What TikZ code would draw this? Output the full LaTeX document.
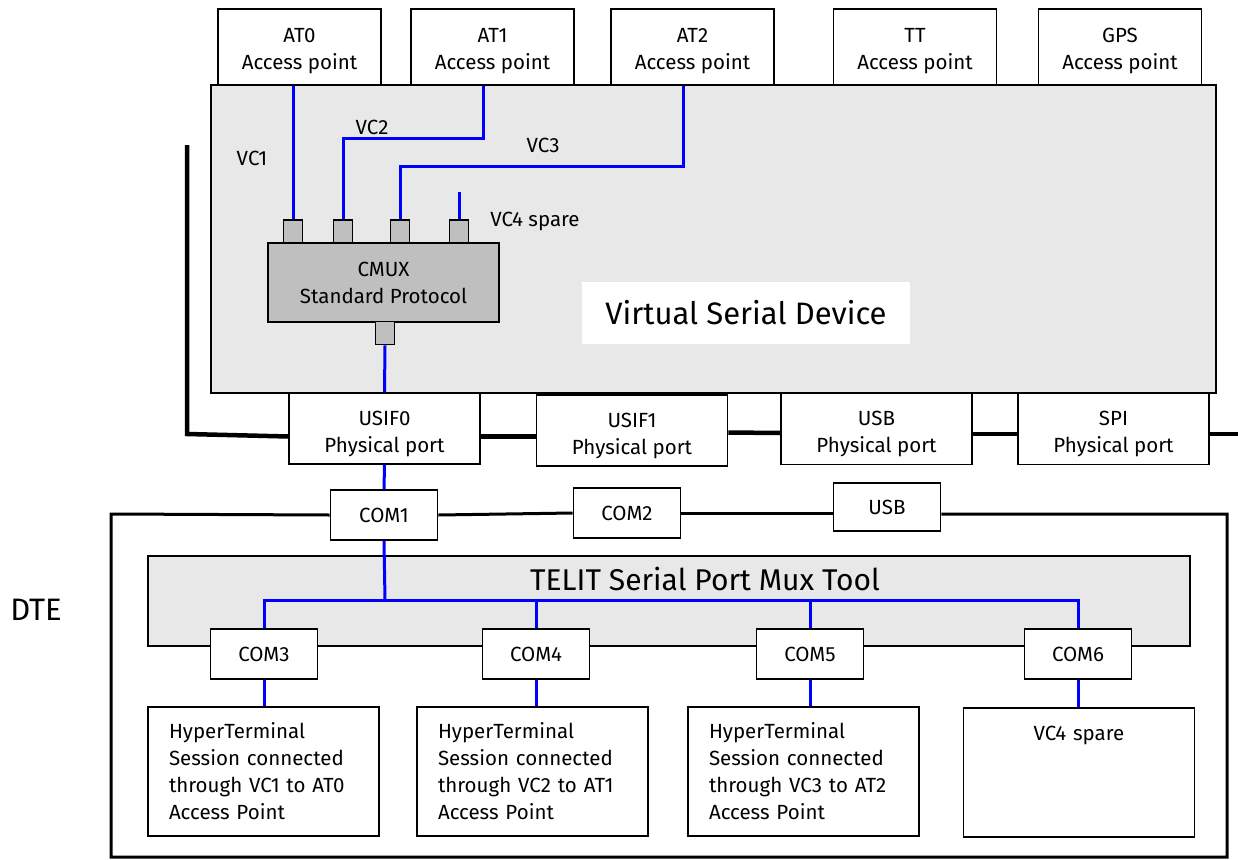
\documentclass[tikz,border=0pt]{standalone}
\usepackage{fontspec}
\setmainfont{Fira Sans}
\begin{document}
\begin{tikzpicture}[x=1pt,y=-1pt,
  every node/.style={font=\fontsize{20.5}{27}\selectfont},
  box/.style={draw, line width=1.6pt, fill=white, align=center, inner sep=0pt},
  apbox/.style={box, text height=50pt, minimum width=163pt, minimum height=76pt},
  portbox/.style={box, text height=52pt, minimum width=191pt, minimum height=71pt},
  combox/.style={box, minimum width=107pt, minimum height=50pt},
  htbox/.style={box, align=left, text width=189pt, minimum width=231pt, minimum height=129pt},
  pin/.style={box, fill=gray!50, minimum width=19pt, minimum height=23pt},
  panel/.style={draw, line width=1.6pt, fill=gray!18, inner sep=0pt},
  vc/.style={blue, line width=3pt},
  bus/.style={black, line width=4.5pt},
  frame/.style={black, line width=3pt},
  big/.style={font=\fontsize{31}{34}\selectfont}]
\useasboundingbox (0,0) rectangle (1238,859);

% module side
\node[panel, minimum width=1005pt, minimum height=308pt] (vsd) at (713.5,239) {};
\node[fill=white, minimum width=328pt, minimum height=62pt, big] (vsdlabel) at (746,313) {Virtual Serial Device};

\node[apbox] (at0) at (299.5,47) {AT0\\Access point};
\node[apbox] (at1) at (492.5,47) {AT1\\Access point};
\node[apbox] (at2) at (692.5,47) {AT2\\Access point};
\node[apbox] (tt)  at (915,47)   {TT\\Access point};
\node[apbox] (gps) at (1120,47)  {GPS\\Access point};

\coordinate (lt) at (187,145);
\coordinate (lb) at (187,434);
\coordinate (redge) at (1238,434);
\node[portbox] (usif0) at (384.5,428.5) {USIF0\\Physical port};
\node[portbox] (usif1) at (632,430.5)   {USIF1\\Physical port};
\node[portbox] (usb)   at (876.5,429)   {USB\\Physical port};
\node[portbox] (spi)   at (1113.5,429)  {SPI\\Physical port};
\draw[bus] (lt) -- (lb) -- ([yshift=-8pt]usif0.west);
\draw[bus] ([yshift=-8pt]usif0.east) -- ([yshift=-6pt]usif1.west);
\draw[bus] ([yshift=-2pt]usif1.east) -- ([yshift=-4pt]usb.west);
\draw[bus] ([yshift=-5pt]usb.east) -- ([yshift=-5pt]spi.west);
\draw[bus] ([yshift=-5pt]spi.east) -- (redge);

\node[box, fill=gray!50, minimum width=231pt, minimum height=79pt] (cmux) at (383.5,282.5) {CMUX\\Standard Protocol};
\node[pin] (p1) at (293,231.5) {};
\node[pin] (p2) at (343,231.5) {};
\node[pin] (p3) at (400,231.5) {};
\node[pin] (p4) at (459,231.5) {};
\node[pin] (pb) at (385,333) {};

\draw[vc] (p1 |- at0.south) -- (p1.north);
\draw[vc] ([xshift=-9.5pt]at1.south) -- ++(0,53) -| (p2.north);
\draw[vc] ([xshift=-9.5pt]at2.south) -- ++(0,81) -| (p3.north);
\draw[vc] (p4.north) -- ++(0,-27);
\draw[vc] (pb.south) -- (usif0.north);

\node (vc1) at (252,158) {VC1};
\node (vc2) at (372,127) {VC2};
\node (vc3) at (543,145) {VC3};
\node (vc4) at (535,221) {VC4 spare};

% DTE side
\node[big] (dte) at (36,610) {DTE};
\coordinate (dtl) at (111,514);
\coordinate (dbl) at (111,857);
\coordinate (dbr) at (1227,857);
\coordinate (dtr) at (1227,514);
\node[combox] (com1) at (384,515) {COM1};
\node[combox] (com2) at (627,513) {COM2};
\node[combox, minimum height=48pt] (usbc) at (887,507) {USB};
\draw[frame] (com1.west) -- (dtl) -- (dbl) -- (dbr) -- (dtr) -- (dtr -| usbc.east);
\draw[frame] (com1.east) -- (com2.west);
\draw[frame] (com2.east) -- (com2.east -| usbc.west);
\draw[vc] (usif0.south) -- (com1.north);

\node[panel, minimum width=1042pt, minimum height=90pt] (mux) at (669,601) {};
\node[font=\fontsize{30}{34}\selectfont] (muxtitle) at (705,579) {TELIT Serial Port Mux Tool};
\coordinate (hub) at (385,600);

\node[combox] (com3) at (264,654)  {COM3};
\node[combox] (com4) at (536,654)  {COM4};
\node[combox] (com5) at (810,654)  {COM5};
\node[combox] (com6) at (1078,654) {COM6};
\draw[vc] (com1.south) -- (hub);
\foreach \c in {com3,com4,com5,com6}
  \draw[vc] (\c.north) |- (hub);

\node[htbox] (ht1) at (263.5,771.5) {HyperTerminal\\Session connected\\through VC1 to AT0\\Access Point};
\node[htbox] (ht2) at (532.5,771.5) {HyperTerminal\\Session connected\\through VC2 to AT1\\Access Point};
\node[htbox] (ht3) at (803.5,771.5) {HyperTerminal\\Session connected\\through VC3 to AT2\\Access Point};
\node[htbox, align=center, text height=25pt] (ht4) at (1079,772.5) {VC4 spare\\\strut\\\strut\\\strut};
\foreach \c/\h in {com3/ht1,com4/ht2,com5/ht3,com6/ht4}
  \draw[vc] (\c.south) -- (\c.south |- \h.north);
\end{tikzpicture}
\end{document}
